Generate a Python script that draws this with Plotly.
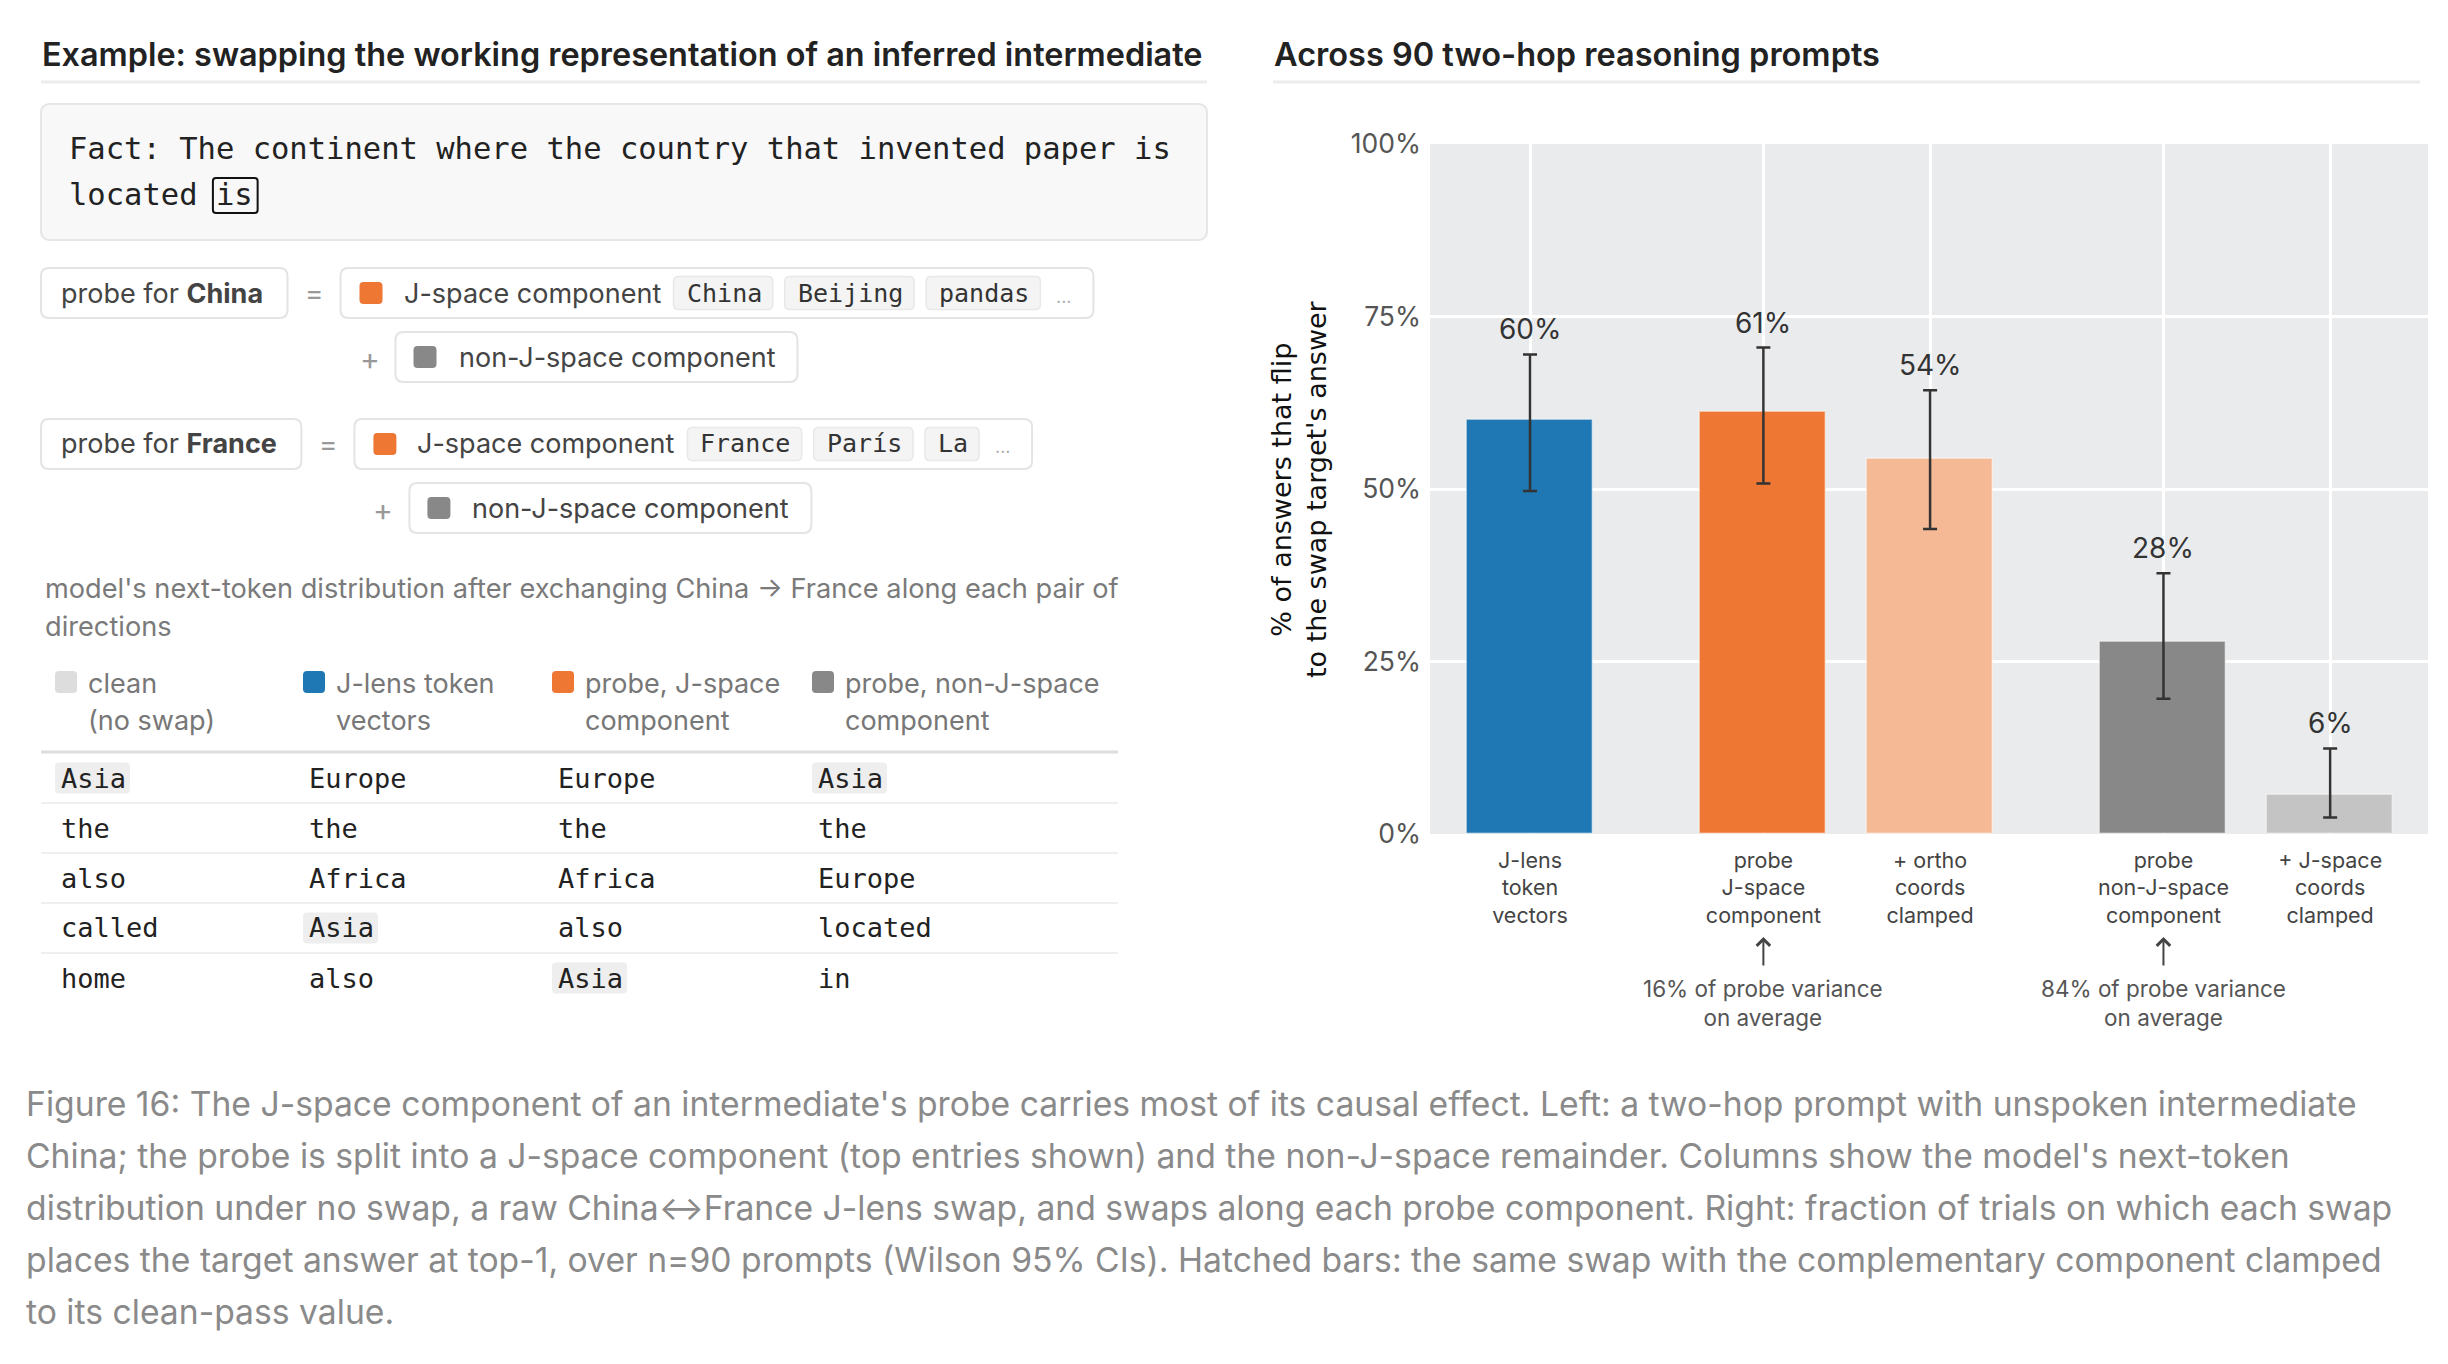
import plotly.graph_objects as go

W, H = 2448, 1364
SANS = "Inter, 'Noto Sans', sans-serif"
MONO = "'DejaVu Sans Mono', 'Liberation Mono', monospace"

# ---------------- data ----------------
bar_labels = [["J-lens", "token", "vectors"],
              ["probe", "J-space", "component"],
              ["+ ortho", "coords", "clamped"],
              ["probe", "non-J-space", "component"],
              ["+ J-space", "coords", "clamped"]]
bar_groups = [0, 1, 1, 2, 2]
flip_rate = [0.600, 0.611, 0.544, 0.278, 0.056]
ci_low = [0.497, 0.508, 0.442, 0.196, 0.024]
ci_high = [0.695, 0.705, 0.643, 0.378, 0.124]
bar_colors = ["#1f77b4", "#ee7733", "#f5b995", "#888888", "#c4c4c4"]
y_ticks = [0, 0.25, 0.5, 0.75, 1.0]
note_bars = [1, 3]
note_lines = [["16% of probe variance", "on average"],
              ["84% of probe variance", "on average"]]

left_title = "Example: swapping the working representation of an inferred intermediate"
right_title = "Across 90 two-hop reasoning prompts"
y_title = "% of answers that flip<br>to the swap target's answer"

fact_line1 = "Fact: The continent where the country that invented paper is"
fact_line2 = "located"
fact_target = "is"

probe_countries = ["China", "France"]
probe_tokens = [["China", "Beijing", "pandas"], ["France", "París", "La"]]
jspace_label = "J-space component"
nonj_label = "non-J-space component"

dist_note = ["model's next-token distribution after exchanging China → France along each pair of",
             "directions"]
legend_labels = [["clean", "(no swap)"], ["J-lens token", "vectors"],
                 ["probe, J-space", "component"], ["probe, non-J-space", "component"]]
legend_colors = ["#dddddd", "#1f77b4", "#ee7733", "#888888"]
table_cols = [["Asia", "the", "also", "called", "home"],
              ["Europe", "the", "Africa", "Asia", "also"],
              ["Europe", "the", "Africa", "also", "Asia"],
              ["Asia", "the", "Europe", "located", "in"]]
highlight_token = "Asia"

caption_lines = [
    "Figure 16: The J-space component of an intermediate's probe carries most of its causal effect. Left: a two-hop prompt with unspoken intermediate",
    "China; the probe is split into a J-space component (top entries shown) and the non-J-space remainder. Columns show the model's next-token",
    "distribution under no swap, a raw China↔France J-lens swap, and swaps along each probe component. Right: fraction of trials on which each swap",
    "places the target answer at top-1, over n=90 prompts (Wilson 95% CIs). Hatched bars: the same swap with the complementary component clamped",
    "to its clean-pass value.",
]

# ---------------- helpers ----------------
shapes, annotations = [], []


def P(x, y):
    return f"{x / W:.6f},{1 - y / H:.6f}"


def rrect(x0, y0, x1, y1, r, fill, line="rgba(0,0,0,0)", lw=0, layer="below"):
    path = (f"M {P(x0 + r, y0)} L {P(x1 - r, y0)} Q {P(x1, y0)} {P(x1, y0 + r)} "
            f"L {P(x1, y1 - r)} Q {P(x1, y1)} {P(x1 - r, y1)} L {P(x0 + r, y1)} "
            f"Q {P(x0, y1)} {P(x0, y1 - r)} L {P(x0, y0 + r)} Q {P(x0, y0)} {P(x0 + r, y0)} Z")
    shapes.append(dict(type="path", xref="paper", yref="paper", path=path,
                       fillcolor=fill, line=dict(color=line, width=lw), layer=layer))


def hline(x0, x1, y, color, width):
    shapes.append(dict(type="line", xref="paper", yref="paper", x0=x0 / W, x1=x1 / W,
                       y0=1 - y / H, y1=1 - y / H, line=dict(color=color, width=width)))


def text(x, y, s, size, color, family=SANS, xanchor="left", yanchor="middle", weight=None, **kw):
    f = dict(family=family, size=size, color=color)
    if weight:
        f["weight"] = weight
    annotations.append(dict(xref="paper", yref="paper", x=x / W, y=1 - y / H, text=s,
                            showarrow=False, font=f, xanchor=xanchor, yanchor=yanchor,
                            borderpad=0, **kw))


# ---------------- titles ----------------
text(41, 55, left_title, 32.4, "#222222", weight=600)
text(1273, 55, right_title, 32.5, "#222222", weight=600)
hline(41, 1207, 82, "#ececec", 3)
hline(1273, 2420, 82, "#ececec", 3)

# ---------------- fact box ----------------
rrect(41, 104, 1207, 240, 9, "#f8f8f8", "#e6e6e6", 2)
FACT_SIZE = 30.5
cw = 0.6021 * FACT_SIZE
text(68, 148, fact_line1, FACT_SIZE, "#222222", family=MONO)
text(68, 195, fact_line2 + " " + fact_target, FACT_SIZE, "#222222", family=MONO)
bx0 = 68 + (len(fact_line2) + 1) * cw - 2
bx1 = bx0 + len(fact_target) * cw + 8
rrect(bx0, 178, bx1, 213, 3, "rgba(0,0,0,0)", "#111111", 2, layer="above")

# ---------------- probe decomposition ----------------
row_y = [293, 444]
sub_y = [357, 508]
CHIP_SIZE = 25
chip_cw = 0.6021 * CHIP_SIZE
for r, country in enumerate(probe_countries):
    yc, ys = row_y[r], sub_y[r]
    label = "probe for " + country
    left_w = len(label) * 13.9 + 38
    rrect(41, yc - 25, 41 + left_w, yc + 25, 8, "#ffffff", "#e4e4e4", 2)
    text(60, yc, f"probe for <b>{country}</b>", 27, "#444444")
    text(41 + left_w + 27, yc, "=", 28, "#999999", xanchor="center")
    jx0 = 41 + left_w + 53
    rrect(jx0 + 19, yc - 11, jx0 + 42, yc + 11, 4, "#ee7733")
    text(jx0 + 62, yc, jspace_label, 27, "#444444")
    cx = jx0 + 62 + 271
    for tok in probe_tokens[r]:
        w = len(tok) * chip_cw + 24
        rrect(cx, yc - 16.5, cx + w, yc + 16.5, 5, "#f4f4f4", "#e8e8e8", 1.5)
        text(cx + 12, yc, tok, CHIP_SIZE, "#333333", family=MONO)
        cx += w + 12
    last_end = cx - 12
    text(last_end + 24, yc + 3, "...", 18, "#aaaaaa", xanchor="center")
    rrect(jx0, yc - 25, last_end + 53, yc + 25, 8, "rgba(255,255,255,0)", "#e4e4e4", 2)
    # non-J-space component
    text(jx0 + 29, ys + 2, "+", 30, "#999999", xanchor="center")
    nx0 = jx0 + 55
    rrect(nx0, ys - 25, nx0 + 402, ys + 25, 8, "#ffffff", "#e4e4e4", 2)
    rrect(nx0 + 18, ys - 11, nx0 + 41, ys + 11, 4, "#888888")
    text(nx0 + 62, ys, nonj_label, 27, "#444444")

# ---------------- distribution note + legend ----------------
text(44, 588, dist_note[0], 27.2, "#7a7a7a")
text(44, 626, dist_note[1], 27.2, "#7a7a7a")
col_x = [55, 303, 552, 812]
for i, (lab, col) in enumerate(zip(legend_labels, legend_colors)):
    rrect(col_x[i], 671, col_x[i] + 22, 693, 4, col)
    text(col_x[i] + 32, 683, lab[0], 27, "#777777")
    text(col_x[i] + 32, 720, lab[1], 27, "#777777")

# ---------------- table ----------------
hline(41, 1118, 752, "#dedede", 3)
TABLE_SIZE = 27
t_cw = 0.6021 * TABLE_SIZE
n_rows = len(table_cols[0])
for k in range(n_rows):
    yk = 778 + 50 * k
    if k < n_rows - 1:
        hline(41, 1118, yk + 25, "#efefef", 2)
    for c, colvals in enumerate(table_cols):
        tok = colvals[k]
        if tok == highlight_token:
            rrect(col_x[c], yk - 15.5, col_x[c] + len(tok) * t_cw + 10, yk + 15.5, 4, "#eeeeee")
        text(col_x[c] + 5, yk, tok, TABLE_SIZE, "#222222", family=MONO)

# ---------------- caption ----------------
for i, line in enumerate(caption_lines):
    text(25, 1103 + 52.2 * i, line, 33.7, "#8a8a8a")

# ---------------- bar chart ----------------
GROUP_GAP = 0.4
x_pos = [i + GROUP_GAP * g for i, g in enumerate(bar_groups)]
err_plus = [h - v for h, v in zip(ci_high, flip_rate)]
err_minus = [v - l for v, l in zip(flip_rate, ci_low)]

fig = go.Figure()
fig.add_trace(go.Bar(
    x=x_pos, y=flip_rate, width=0.756,
    marker=dict(color=bar_colors, line=dict(width=1.5, color="rgba(255,255,255,0.45)")),
    error_y=dict(type="data", symmetric=False, array=err_plus, arrayminus=err_minus,
                 color="#333333", thickness=2.5, width=7),
    hoverinfo="skip", showlegend=False,
))

for xp, v, hi in zip(x_pos, flip_rate, ci_high):
    annotations.append(dict(xref="x", yref="y", x=xp, y=hi, text=f"{round(v * 100)}%",
                            showarrow=False, yanchor="bottom", yshift=6,
                            font=dict(family=SANS, size=28, color="#333333")))

for b, lines in zip(note_bars, note_lines):
    annotations.append(dict(xref="x", yref="paper", x=x_pos[b], y=1 - 937 / H, text="",
                            showarrow=True, ax=0, ay=30, arrowhead=4, arrowsize=1.3,
                            arrowwidth=2, arrowcolor="#444444", standoff=0, startstandoff=0))
    annotations.append(dict(xref="x", yref="paper", x=x_pos[b], y=1 - 1003 / H,
                            text="<br>".join(lines), showarrow=False, yanchor="middle",
                            font=dict(family=SANS, size=22.5, color="#555555")))

text(1299, 489, y_title, 27, "#111111", family="DejaVu Sans", xanchor="center", textangle=-90)

PX0, PX1, PY0, PY1 = 1430, 2428, 144, 834
fig.update_layout(
    width=W, height=H,
    margin=dict(l=0, r=0, t=0, b=0),
    paper_bgcolor="#ffffff",
    plot_bgcolor="#eaebed",
    font=dict(family=SANS),
    xaxis=dict(domain=[PX0 / W, PX1 / W], range=[-0.6, 5.387], tickvals=x_pos,
               ticktext=["<br>".join(l) for l in bar_labels],
               tickfont=dict(family=SANS, size=21.5, color="#444444"), ticklabelstandoff=11,
               showgrid=True, gridcolor="#ffffff", gridwidth=2.5,
               zeroline=False, ticks="", fixedrange=True, automargin=False),
    yaxis=dict(domain=[1 - PY1 / H, 1 - PY0 / H], range=[0, 1], tickvals=y_ticks,
               tickformat=".0%", showgrid=True, gridcolor="#ffffff", gridwidth=2.5,
               zeroline=False, ticks="", ticklabelstandoff=8, automargin=False,
               tickfont=dict(family=SANS, size=26.5, color="#555555"), fixedrange=True),
    shapes=shapes,
    annotations=annotations,
    bargap=0,
)

page_fix = (
    "document.documentElement.style.margin='0';"
    "document.documentElement.style.padding='0';"
    "document.documentElement.style.overflow='hidden';"
    "document.body.style.margin='0';"
    "document.body.style.padding='0';"
    "document.body.style.overflow='hidden';"
    "var gd=document.getElementById('{plot_id}');"
    "gd.style.position='fixed';gd.style.left='0px';gd.style.top='0px';"
)
fig.write_html("out.html", config={"displayModeBar": False}, post_script=page_fix)
